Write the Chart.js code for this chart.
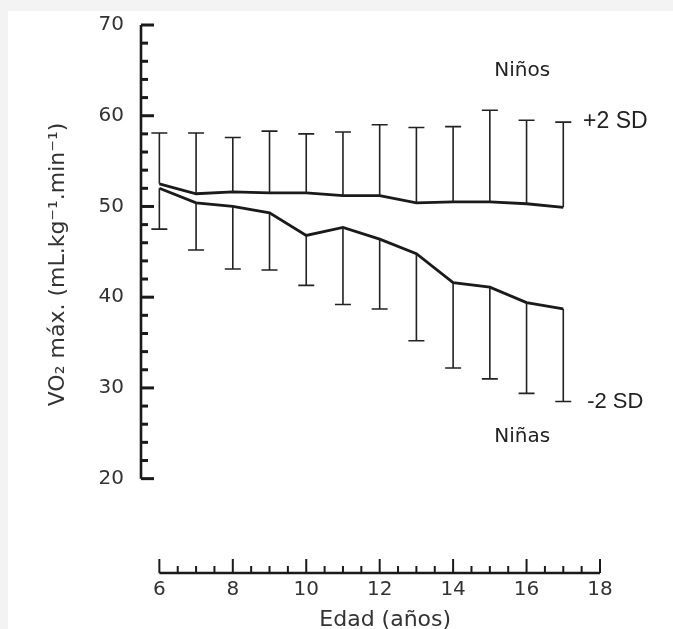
<!DOCTYPE html>
<html>
<head>
<meta charset="UTF-8">
<title>VO2 máx por edad</title>
<style>
    html, body {
        margin: 0;
        padding: 0;
        background: #f3f3f3;
        overflow: hidden;
    }
    #chartBox {
        position: absolute;
        left: 8px;
        top: 11px;
        width: 665px;
        height: 618px;
        background: #fff;
    }
</style>
<script src="https://cdn.jsdelivr.net/npm/chart.js"></script>
</head>
<body>

<div id="chartBox">
    <canvas id="vo2Chart"></canvas>
</div>

<script>
// values
const ages = [6, 7, 8, 9, 10, 11, 12, 13, 14, 15, 16, 17];
const boysMean = [52.5, 51.4, 51.6, 51.5, 51.5, 51.2, 51.2, 50.4, 50.5, 50.5, 50.3, 49.9];
const boysPlus2SD = [58.1, 58.1, 57.6, 58.3, 58.0, 58.2, 59.0, 58.7, 58.8, 60.6, 59.5, 59.3];
const girlsMean = [52.0, 50.4, 50.0, 49.3, 46.8, 47.7, 46.4, 44.8, 41.6, 41.1, 39.4, 38.7];
const girlsMinus2SD = [47.5, 45.2, 43.1, 43.0, 41.3, 39.2, 38.7, 35.2, 32.2, 31.0, 29.4, 28.5];
const yTicks = [20, 30, 40, 50, 60, 70];
const xTicks = [6, 8, 10, 12, 14, 16, 18];

const ink = '#1a1a1a';
const textGrey = '#333';

// hand-drawn looking axes, error bars and labels
const sketchPlugin = {
    id: 'sketch',
    afterDraw(chart) {
        const ctx = chart.ctx;
        const xs = chart.scales.x;
        const ys = chart.scales.y;
        const area = chart.chartArea;
        ctx.save();

        // y axis: line from 20 to 70, ticks every 2 pointing right
        const ax = area.left;
        ctx.strokeStyle = ink;
        ctx.lineWidth = 2.6;
        ctx.beginPath();
        ctx.moveTo(ax, ys.getPixelForValue(20));
        ctx.lineTo(ax, ys.getPixelForValue(70));
        ctx.stroke();
        ctx.lineWidth = 3;
        for (let v = 20; v <= 70; v += 2) {
            const py = ys.getPixelForValue(v);
            const len = v % 10 === 0 ? 13 : 7;
            ctx.beginPath();
            ctx.moveTo(ax, py);
            ctx.lineTo(ax + len, py);
            ctx.stroke();
        }

        // x axis: line from 6 to 18, ticks every half year pointing up
        const ay = area.bottom;
        ctx.lineWidth = 2.6;
        ctx.beginPath();
        ctx.moveTo(xs.getPixelForValue(6), ay);
        ctx.lineTo(xs.getPixelForValue(18), ay);
        ctx.stroke();
        ctx.lineWidth = 2;
        for (let v = 6; v <= 18; v += 0.5) {
            const px = xs.getPixelForValue(v);
            const len = v % 2 === 0 ? 14 : 7;
            ctx.beginPath();
            ctx.moveTo(px, ay);
            ctx.lineTo(px, ay - len);
            ctx.stroke();
        }

        // error bars: +2 SD above boys, -2 SD below girls
        ctx.strokeStyle = '#222';
        ctx.lineWidth = 1.6;
        const cap = 8;
        ages.forEach((a, i) => {
            const px = xs.getPixelForValue(a);
            const top = ys.getPixelForValue(boysPlus2SD[i]);
            const mid = ys.getPixelForValue(boysMean[i]);
            const low = ys.getPixelForValue(girlsMean[i]);
            const bot = ys.getPixelForValue(girlsMinus2SD[i]);
            ctx.beginPath();
            ctx.moveTo(px, mid);
            ctx.lineTo(px, top);
            ctx.moveTo(px - cap, top);
            ctx.lineTo(px + cap, top);
            ctx.moveTo(px, low);
            ctx.lineTo(px, bot);
            ctx.moveTo(px - cap, bot);
            ctx.lineTo(px + cap, bot);
            ctx.stroke();
        });

        // annotations
        ctx.fillStyle = '#222';
        ctx.textBaseline = 'middle';
        ctx.font = '20px "DejaVu Sans"';
        ctx.textAlign = 'center';
        ctx.fillText('Niños', xs.getPixelForValue(15.88), ys.getPixelForValue(65.0));
        ctx.fillText('Niñas', xs.getPixelForValue(15.88), ys.getPixelForValue(24.6));
        ctx.font = '23px "Liberation Sans"';
        ctx.textAlign = 'left';
        ctx.fillText('+2 SD', xs.getPixelForValue(17.54), ys.getPixelForValue(59.3));
        ctx.font = '22px "Liberation Sans"';
        ctx.fillText('-2 SD', xs.getPixelForValue(17.65), ys.getPixelForValue(28.5));

        // x title, a little right of centre as in the original
        ctx.fillStyle = textGrey;
        ctx.font = '22px "DejaVu Sans"';
        ctx.textAlign = 'center';
        ctx.fillText('Edad (años)', xs.getPixelForValue(12.15), area.bottom + 47);

        // rotated y title
        ctx.translate(area.left - 83, ys.getPixelForValue(43.6));
        ctx.rotate(-Math.PI / 2);
        ctx.fillText('VO₂ máx. (mL.kg⁻¹.min⁻¹)', 0, 0);

        ctx.restore();
    }
};

const ctx = document.getElementById('vo2Chart').getContext('2d');

new Chart(ctx, {
    type: 'line',
    data: {
        datasets: [{
            label: 'Niños',
            data: ages.map((a, i) => ({ x: a, y: boysMean[i] })),
            borderColor: ink,
            borderWidth: 2.8,
            pointRadius: 0,
            tension: 0
        }, {
            label: 'Niñas',
            data: ages.map((a, i) => ({ x: a, y: girlsMean[i] })),
            borderColor: ink,
            borderWidth: 2.8,
            pointRadius: 0,
            tension: 0
        }]
    },
    options: {
        responsive: true,
        maintainAspectRatio: false,
        animation: false,
        layout: {
            padding: { left: 0, right: 73, top: 14, bottom: 0 }
        },
        plugins: {
            legend: { display: false },
            tooltip: { enabled: false }
        },
        scales: {
            x: {
                type: 'linear',
                min: 5.5,
                max: 18,
                border: { display: false },
                grid: { display: false, drawTicks: false },
                afterBuildTicks: scale => { scale.ticks = xTicks.map(v => ({ value: v })); },
                afterFit: scale => { scale.height = 56; },
                ticks: {
                    padding: 5,
                    color: textGrey,
                    font: { family: 'DejaVu Sans', size: 20 }
                }
            },
            y: {
                min: 9.6,
                max: 70,
                border: { display: false },
                grid: {
                    display: true,
                    drawOnChartArea: false,
                    drawTicks: true,
                    tickLength: 17,
                    color: 'rgba(0,0,0,0)'
                },
                afterBuildTicks: scale => { scale.ticks = yTicks.map(v => ({ value: v })); },
                afterFit: scale => { scale.width = 133; },
                ticks: {
                    padding: 0,
                    color: textGrey,
                    font: { family: 'DejaVu Sans', size: 20 }
                }
            }
        }
    },
    plugins: [sketchPlugin]
});
</script>

</body>
</html>
